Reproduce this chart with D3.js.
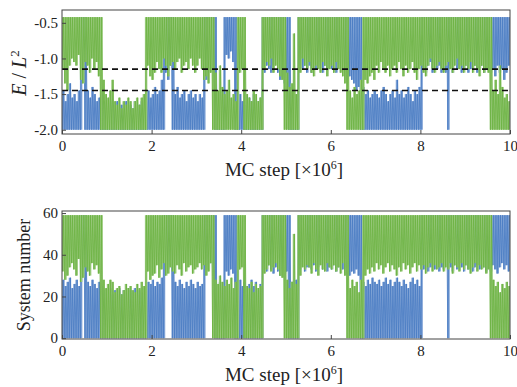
<!DOCTYPE html>
<html><head><meta charset="utf-8">
<script src="https://cdn.jsdelivr.net/npm/d3@7"></script>
<style>
body{margin:0;background:#fff}
text{font-family:"Liberation Serif","DejaVu Serif",serif;fill:#222}
</style>
</head><body>
<svg id="c" width="517" height="387"></svg>
<script>
// ---------- data (MC step in units of 10^6, bins of 0.05) ----------
const binWidth = 0.05;
const xTicks = [0, 2, 4, 6, 8, 10];
const eTicks = [-0.5, -1.0, -1.5, -2.0];
const sTicks = [0, 20, 40, 60];
const eRefLines = [-1.15, -1.45];
const eBounds = [-2.0, -0.42];   // observed min / max energy per site
const sBounds = [0, 59];         // system index range

// regimes: H = disordered/high, L = ordered/low, T = switching inside the bin
const greenRuns = [[0,0.85,"H"],[0.85,0.9,"T"],[0.9,1.85,"L"],[1.85,1.9,"T"],[1.9,3.35,"H"],[3.35,3.4,"T"],
  [3.4,3.9,"L"],[3.9,3.95,"T"],[3.95,4.05,"H"],[4.05,4.1,"T"],[4.1,4.45,"L"],[4.45,4.5,"T"],[4.5,4.95,"H"],
  [4.95,5.0,"T"],[5.0,5.25,"L"],[5.25,5.3,"T"],[5.3,6.35,"H"],[6.35,6.4,"T"],[6.4,6.7,"L"],[6.7,6.75,"T"],
  [6.75,9.55,"H"],[9.55,9.6,"T"],[9.6,10,"L"]];
const blueRuns = [[0,0.4,"L"],[0.4,0.45,"T"],[0.45,0.5,"H"],[0.5,0.55,"T"],[0.55,2.25,"L"],[2.25,2.3,"T"],
  [2.3,2.45,"H"],[2.45,2.5,"T"],[2.5,3.15,"L"],[3.15,3.2,"T"],[3.2,3.4,"H"],[3.4,3.45,"T"],[3.45,3.6,"L"],
  [3.6,3.65,"T"],[3.65,3.85,"H"],[3.85,3.9,"T"],[3.9,4.45,"L"],[4.45,4.5,"T"],[4.5,5.05,"H"],[5.05,5.1,"T"],
  [5.1,5.25,"L"],[5.25,5.3,"T"],[5.3,6.65,"H"],[6.65,6.7,"T"],[6.7,8.0,"L"],[8.0,8.05,"T"],[8.05,8.6,"H"],
  [8.6,8.65,"T"],[8.65,10,"H"]];

// ragged edge of each bin (lower edge in H, upper edge in L)
const greenE = [
 -1.15,-1.35,-1.45,-1.1,-1.0,-1.05,-1.1,-0.95,-1.3,-1.35,
 -1.05,-1.1,-1.2,-1.0,-1.15,-1.05,-1.25,null,-1.3,-1.5,
 -1.55,-1.45,-1.3,-1.6,-1.65,-1.55,-1.7,-1.6,-1.65,-1.55,
 -1.6,-1.7,-1.6,-1.55,-1.65,-1.55,-1.5,null,-1.1,-1.25,
 -1.3,-1.2,-1.05,-1.15,-1.2,-1.0,-1.1,-1.25,-1.1,-1.05,
 -1.15,-1.05,-1.0,-1.2,-1.1,-1.05,-1.15,-1.0,-1.1,-1.2,
 -1.1,-1.0,-1.15,-1.3,-1.25,-1.35,-1.2,null,-1.2,-1.45,
 -1.1,-1.4,-1.5,-1.45,-1.3,-1.55,-1.5,-1.6,null,-1.2,
 -1.15,null,-1.5,-1.55,-1.6,-1.45,-1.5,-1.6,-1.55,null,
 -1.15,-1.05,-1.1,-1.0,-1.2,-1.1,-1.15,-1.25,-1.3,null,
 -1.2,-1.4,-1.35,-0.65,-1.5,null,-1.2,-1.0,-1.1,-1.15,
 -1.05,-1.2,-1.25,-1.1,-1.15,-1.2,-1.05,-1.1,-1.25,-1.15,
 -1.1,-1.2,-1.05,-1.15,-1.2,-1.25,-1.35,null,-1.45,-1.55,
 -1.4,-1.5,-1.45,-1.3,null,-1.3,-1.35,-1.25,-1.2,-1.3,
 -1.1,-1.2,-1.05,-1.15,-1.2,-1.1,-1.25,-1.15,-1.1,-1.2,
 -1.05,-1.15,-1.25,-1.1,-1.2,-1.15,-1.05,-1.2,-1.3,-1.15,
 -1.1,-1.2,-1.25,-1.1,-1.0,-1.15,-1.2,-1.1,-1.05,-1.15,
 -1.2,-1.1,-1.05,-1.15,-1.2,-1.1,-1.0,-1.15,-1.1,-1.2,
 -1.1,-1.15,-1.05,-1.2,-1.1,-1.15,-1.25,-1.1,-1.2,-1.15,
 -1.2,null,-1.45,-1.3,-1.5,-1.1,-1.4,-1.55,-1.5,-1.6];
const blueE = [
 -1.45,-1.6,-1.5,-1.35,-1.55,-1.5,-1.6,-1.45,null,-1.3,
 null,-1.45,-1.55,-1.4,-1.5,-1.6,-1.55,-1.5,-1.6,-1.65,
 -1.7,-1.6,-1.65,-1.7,-1.6,-1.7,-1.65,-1.7,-1.6,-1.7,
 -1.65,-1.7,-1.6,-1.7,-1.65,-1.6,-1.55,-1.5,-1.45,-1.55,
 -1.5,-1.4,-1.5,-1.45,-1.3,null,-1.2,-1.3,-1.1,null,
 -1.5,-1.4,-1.55,-1.5,-1.45,-1.6,-1.5,-1.45,-1.55,-1.5,
 -1.6,-1.5,-1.55,null,-1.3,-1.2,-1.1,-1.1,null,-1.6,
 -1.6,-1.55,null,-0.95,-1.0,-0.9,-1.05,null,-1.45,-1.5,
 -1.6,-1.65,-1.6,-1.55,-1.6,-1.5,-1.55,-1.6,-1.55,null,
 -1.2,-1.1,-1.15,-1.2,-1.1,-1.05,-1.2,-1.3,-1.25,-1.35,
 -1.3,null,-1.5,-1.45,-1.55,null,-1.1,-1.15,-1.1,-1.2,
 -1.1,-1.2,-1.0,-1.15,-1.1,-1.05,-1.2,-1.1,-1.15,-1.1,
 -1.15,-1.1,-1.2,-1.05,-1.1,-1.15,-1.2,-1.1,-1.25,-1.3,
 -1.35,-1.45,-1.4,null,-1.4,-1.5,-1.45,-1.55,-1.5,-1.45,
 -1.5,-1.55,-1.45,-1.4,-1.5,-1.6,-1.5,-1.45,-1.55,-1.3,
 -1.5,-1.45,-1.55,-1.5,-1.4,-1.5,-1.6,-1.45,-1.5,-1.4,
 null,-1.15,-1.2,-1.1,-1.05,-1.2,-1.1,-1.15,-1.1,-1.2,
 -1.15,-1.2,null,-1.1,-1.2,-1.05,-1.15,-1.1,-1.2,-1.15,
 -1.1,-1.2,-1.15,-1.05,-1.1,-1.2,-1.15,-1.1,-1.2,-1.15,
 -1.1,-1.2,-1.15,-1.25,-1.1,-1.2,-1.15,-1.3,-1.2,-1.1];
const greenS = [
 32,28,30,34,36,33,30,38,27,29,
 34,32,30,36,33,35,31,null,28,24,
 26,28,27,22,24,25,21,23,26,24,
 25,23,22,26,24,27,25,null,32,28,
 30,31,35,29,33,36,30,31,34,32,
 31,35,33,30,36,32,34,35,31,33,
 34,36,33,35,30,32,36,null,28,26,
 30,27,25,28,26,29,24,27,null,33,
 34,null,25,24,27,22,26,24,25,null,
 31,33,35,32,34,36,33,30,29,null,
 28,24,27,50,26,null,30,34,33,35,
 34,31,36,33,30,35,33,32,36,34,
 33,35,32,34,31,36,30,null,24,28,
 25,27,22,28,null,30,33,31,34,32,
 36,33,35,31,34,36,32,35,33,30,
 34,32,36,33,35,31,34,36,32,35,
 33,35,31,34,36,32,35,33,34,36,
 32,34,33,36,31,35,34,32,36,33,
 35,33,31,34,36,32,35,33,34,31,
 33,null,28,25,27,22,26,24,27,25];
const blueS = [
 28,25,27,29,24,26,28,25,null,34,
 null,27,25,28,26,24,27,25,23,22,
 22,24,21,23,22,24,21,23,22,24,
 23,22,24,21,23,22,24,25,27,26,
 28,25,27,26,29,null,36,33,35,null,
 27,25,28,26,24,27,25,28,26,24,
 27,25,26,null,35,33,36,30,null,25,
 27,24,null,32,30,33,31,null,26,28,
 25,27,24,26,28,25,27,24,26,null,
 34,32,35,33,31,34,32,30,33,31,
 32,null,27,25,28,null,33,35,32,34,
 34,33,35,32,34,36,33,35,32,34,
 33,35,32,34,36,33,31,34,30,32,
 31,33,30,null,27,25,28,26,29,27,
 26,28,25,27,29,26,28,25,27,29,
 27,25,28,26,24,27,29,26,28,25,
 null,33,35,32,34,36,33,35,32,34,
 33,35,null,34,32,35,33,36,34,32,
 35,33,36,32,34,35,33,36,34,32,
 34,32,35,33,31,34,36,33,35,32];

const colors = {blue: "#4a7cc3", green: "#6cb242"};
const bodyColors = {blue: "#7fa2d6", green: "#96c878"};

// ---------- drawing ----------
const svg = d3.select("#c");
const x = d3.scaleLinear().domain([0, 10]).range([62, 510]);

function stateAt(runs, t) {
  for (const r of runs) if (t >= r[0] && t < r[1]) return r[2];
  return runs[runs.length - 1][2];
}
function bins(runs, edges, bounds) {
  return edges.map((v, i) => {
    const t0 = i * binWidth;
    const s = stateAt(runs, t0 + binWidth / 2);
    let lo, hi;
    if (s === "H") { lo = v; hi = bounds[1]; }
    else if (s === "L") { lo = bounds[0]; hi = v; }
    else { lo = bounds[0]; hi = bounds[1]; }
    return {t0, t1: t0 + binWidth, lo, hi, s};
  });
}

function panel(cfg) {
  const y = d3.scaleLinear().domain(cfg.domain).range(cfg.range);
  const g = svg.append("g");
  const id = "clip" + cfg.name;
  svg.append("clipPath").attr("id", id).append("rect")
    .attr("x", x.range()[0]).attr("y", cfg.range[1])
    .attr("width", x.range()[1] - x.range()[0]).attr("height", cfg.range[0] - cfg.range[1]);
  const data = g.append("g").attr("clip-path", `url(#${id})`);
  const line = d3.line().x(d => x(d[0])).y(d => y(d[1]));
  cfg.series.forEach(s => {
    const b = bins(s.runs, s.edges, cfg.bounds);
    const sg = data.append("g");
    sg.selectAll("rect").data(b).join("rect")
      .attr("x", d => x(d.t0)).attr("width", d => x(d.t1) - x(d.t0) + 0.2)
      .attr("y", d => y(d.hi)).attr("height", d => y(d.lo) - y(d.hi))
      .attr("fill", bodyColors[s.key]);
    const pts = b.flatMap(d => [[d.t0 + binWidth * 0.25, d.lo], [d.t0 + binWidth * 0.75, d.hi]]);
    sg.append("path").attr("d", line(pts)).attr("fill", "none")
      .attr("stroke", colors[s.key]).attr("stroke-width", 0.8).attr("stroke-linejoin", "bevel");
  });
  (cfg.refs || []).forEach(v => {
    g.append("line").attr("x1", x.range()[0]).attr("x2", x.range()[1])
      .attr("y1", y(v)).attr("y2", y(v))
      .attr("stroke", "#111").attr("stroke-width", 1.6).attr("stroke-dasharray", "6,4");
  });
  g.append("rect").attr("x", x.range()[0]).attr("y", cfg.range[1])
    .attr("width", x.range()[1] - x.range()[0]).attr("height", cfg.range[0] - cfg.range[1])
    .attr("fill", "none").attr("stroke", "#444").attr("stroke-width", 1);
  const ax = g.append("g").attr("transform", `translate(0,${cfg.range[0]})`)
    .call(d3.axisBottom(x).tickValues(xTicks).tickSize(-4).tickPadding(6).tickFormat(d3.format("d")));
  const ay = g.append("g").attr("transform", `translate(${x.range()[0]},0)`)
    .call(d3.axisLeft(y).tickValues(cfg.ticks).tickSize(-4).tickPadding(4).tickFormat(cfg.fmt));
  [ax, ay].forEach(a => {
    a.select(".domain").remove();
    a.selectAll(".tick line").attr("stroke", "#444");
    a.selectAll("text").attr("font-size", 15).attr("font-family", '"Liberation Serif",serif').attr("fill", "#222");
  });
  g.append("text").attr("x", 284).attr("y", cfg.range[0] + 42).attr("text-anchor", "middle")
    .attr("font-size", 19)
    .html('MC step [×10<tspan font-size="12" dy="-7">6</tspan><tspan dy="7">]</tspan>');
  return g;
}

panel({name: "E", domain: [-2.06, -0.32], range: [134, 10], bounds: eBounds, ticks: eTicks,
  fmt: d => d.toFixed(1), refs: eRefLines,
  series: [{runs: blueRuns, edges: blueE, key: "blue"}, {runs: greenRuns, edges: greenE, key: "green"}]});
panel({name: "S", domain: [-0.4, 61], range: [339, 211], bounds: sBounds, ticks: sTicks,
  fmt: d3.format("d"),
  series: [{runs: blueRuns, edges: blueS, key: "blue"}, {runs: greenRuns, edges: greenS, key: "green"}]});

svg.append("text").attr("transform", "translate(26,73) rotate(-90)").attr("text-anchor", "middle")
  .attr("font-size", 20)
  .html('<tspan font-style="italic">E</tspan> / <tspan font-style="italic">L</tspan><tspan font-size="13" dy="-7">2</tspan>');
svg.append("text").attr("transform", "translate(30,275) rotate(-90)").attr("text-anchor", "middle")
  .attr("font-size", 18).text("System number");
</script>
</body></html>
